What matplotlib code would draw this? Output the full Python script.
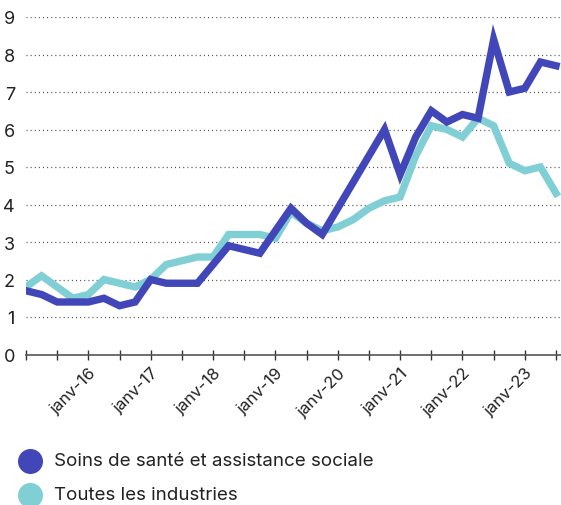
import matplotlib
matplotlib.use('Agg')
import matplotlib.pyplot as plt

plt.rcParams['font.family'] = ['Inter', 'DejaVu Sans']

# quarterly values, janv-15 .. juil-23
quarters = ['janv-15', 'avr-15', 'juil-15', 'oct-15',
            'janv-16', 'avr-16', 'juil-16', 'oct-16',
            'janv-17', 'avr-17', 'juil-17', 'oct-17',
            'janv-18', 'avr-18', 'juil-18', 'oct-18',
            'janv-19', 'avr-19', 'juil-19', 'oct-19',
            'janv-20', 'avr-20', 'juil-20', 'oct-20',
            'janv-21', 'avr-21', 'juil-21', 'oct-21',
            'janv-22', 'avr-22', 'juil-22', 'oct-22',
            'janv-23', 'avr-23', 'juil-23']
sante = [1.7, 1.6, 1.4, 1.4, 1.4, 1.5, 1.3, 1.4,
         2.0, 1.9, 1.9, 1.9, 2.4, 2.9, 2.8, 2.7,
         3.3, 3.9, 3.5, 3.2, 3.9, 4.6, 5.3, 6.0,
         4.8, 5.8, 6.5, 6.2, 6.4, 6.3, 8.4, 7.0,
         7.1, 7.8, 7.7]
toutes = [1.8, 2.1, 1.8, 1.5, 1.6, 2.0, 1.9, 1.8,
          2.0, 2.4, 2.5, 2.6, 2.6, 3.2, 3.2, 3.2,
          3.1, 3.8, 3.5, 3.3, 3.4, 3.6, 3.9, 4.1,
          4.2, 5.3, 6.1, 6.0, 5.8, 6.3, 6.1, 5.1,
          4.9, 5.0, 4.3]
tick_labels = ['janv-16', 'janv-17', 'janv-18', 'janv-19',
               'janv-20', 'janv-21', 'janv-22', 'janv-23']
names = ['Soins de santé et assistance sociale', 'Toutes les industries']

dark = '#4146B9'
teal = '#7FCFD4'

fig = plt.figure(figsize=(5.61, 5.06), dpi=100)
ax = fig.add_axes([26/561, 1 - 355.5/506, 1 - 26/561, (355.5 - 18)/506])

x = list(range(len(quarters)))
ax.plot(x, toutes, color=teal, lw=5.3, solid_joinstyle='miter', zorder=3)
ax.plot(x, sante, color=dark, lw=5.3, solid_joinstyle='miter', zorder=4)

ax.set_xlim(0, 34.32)
ax.set_ylim(0, 9)
ax.set_yticks(range(0, 10))
ax.grid(axis='y', linestyle=(0, (0.8, 2.5)), color='#444444', lw=0.9)
ax.set_axisbelow(True)

ax.set_xticks(range(0, 35, 2))
labels = [''] * 18
for i, t in enumerate(tick_labels):
    labels[2 + 2 * i] = t
ax.set_xticklabels(labels)
for lab in ax.get_xticklabels():
    lab.set_rotation(45)
    lab.set_rotation_mode('anchor')
    lab.set_ha('right')
    lab.set_va('top')

for s in ['left', 'right', 'top']:
    ax.spines[s].set_visible(False)
ax.spines['bottom'].set_color('#555555')
ax.spines['bottom'].set_linewidth(1.2)
ax.tick_params(axis='x', direction='inout', length=7, width=1, color='#333333',
               labelsize=12, pad=4, labelcolor='#222222')
ax.tick_params(axis='y', length=0, labelsize=13, pad=8, labelcolor='#222222')

# legend in pixel coordinates of the figure
lg = fig.add_axes([0, 0, 1, 1])
lg.set_xlim(0, 561)
lg.set_ylim(506, 0)
lg.axis('off')
for c, name, y in zip([dark, teal], names, [462, 496]):
    lg.scatter([30], [y], s=18**2, color=c, linewidths=0)
    lg.text(54, y, name, fontsize=13.5, color='#222222', va='center', ha='left')

fig.savefig('out.png', dpi=100)
